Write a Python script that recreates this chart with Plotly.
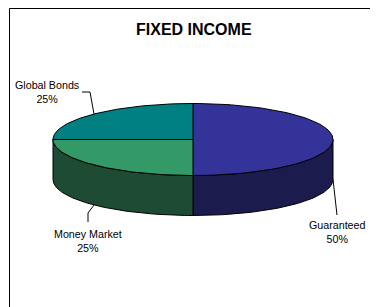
import numpy as np
import plotly.graph_objects as go

# ---- data ----
labels = ["Guaranteed", "Money Market", "Global Bonds"]
values = [50, 25, 25]
title = "FIXED INCOME"

# ---- style ----
top_colors = ["#333399", "#339966", "#008080"]
side_colors = ["#1b1b4e", "#1e4b33", "#004040"]
FONT = "Arial, Liberation Sans, sans-serif"

# page has an 8px body margin; map page pixels directly onto axis units
OFF = 8
W, H = 378, 307

# pie geometry (page pixel space)
CX, CY, RX, RY, DEPTH = 193, 139.5, 140, 36, 40


def pt(theta, dy=0.0):
    t = np.radians(theta)
    return CX + RX * np.sin(t), CY - RY * np.cos(t) + dy


def arc(a, b, dy=0.0, n=80):
    th = np.linspace(a, b, n)
    xs, ys = pt(th, dy)
    return list(xs), list(ys)


total = float(sum(values))
starts = np.concatenate([[0], np.cumsum(values)[:-1]]) / total * 360
ends = np.cumsum(values) / total * 360

fig = go.Figure()

# chart border
fig.add_trace(go.Scatter(x=[9.5, 9.5, 373.5, 373.5], y=[H, 8.5, 8.5, H],
                         mode="lines", line=dict(color="black", width=1),
                         hoverinfo="skip", showlegend=False))

# side walls (front half only)
for i in range(len(values)):
    a, b = max(starts[i], 90), min(ends[i], 270)
    if a < b:
        x1, y1 = arc(a, b)
        x2, y2 = arc(b, a, DEPTH)
        fig.add_trace(go.Scatter(x=x1 + x2 + [x1[0]], y=y1 + y2 + [y1[0]],
                                 mode="lines", fill="toself",
                                 fillcolor=side_colors[i],
                                 line=dict(color="black", width=1),
                                 hoverinfo="skip", showlegend=False))

# tops
for i in range(len(values)):
    xs, ys = arc(starts[i], ends[i])
    fig.add_trace(go.Scatter(x=[CX] + xs + [CX], y=[CY] + ys + [CY],
                             mode="lines", fill="toself",
                             fillcolor=top_colors[i],
                             line=dict(color="black", width=1),
                             hoverinfo="skip", showlegend=False))

# labels and leader lines
mids = (starts + ends) / 2
label_pos = {
    "Guaranteed": (337, 232),
    "Money Market": (88, 241),
    "Global Bonds": (47, 91.5),
}
for i, lab in enumerate(labels):
    pct = round(values[i] / total * 100)
    lx, ly = label_pos[lab]
    fig.add_annotation(x=lx, y=ly, text=f"{lab}<br>{pct}%", showarrow=False,
                       xanchor="center", yanchor="middle",
                       font=dict(family=FONT, size=10.7, color="black"))
    m = mids[i]
    if lab == "Global Bonds":
        ex, ey = pt(m)
        px, py = [82, 90, ex], [92, 92, ey]
    elif lab == "Money Market":
        ex, ey = pt(m, DEPTH)
        px, py = [88, 88, ex], [222, 213, ey]
    else:
        ex, ey = pt(m, DEPTH)
        px, py = [337, ex], [215, ey]
    fig.add_trace(go.Scatter(x=px, y=py, mode="lines",
                             line=dict(color="black", width=1),
                             hoverinfo="skip", showlegend=False))

fig.add_annotation(x=194, y=29, text=f"<b>{title}</b>", showarrow=False,
                   xanchor="center", yanchor="middle",
                   font=dict(family=FONT, size=16, color="black"))

fig.update_layout(
    width=W - OFF, height=H - OFF,
    margin=dict(l=0, r=0, t=0, b=0),
    paper_bgcolor="white", plot_bgcolor="white",
    xaxis=dict(range=[OFF, W], visible=False, fixedrange=True),
    yaxis=dict(range=[H, OFF], visible=False, fixedrange=True),
)

fig.write_html("out.html")
